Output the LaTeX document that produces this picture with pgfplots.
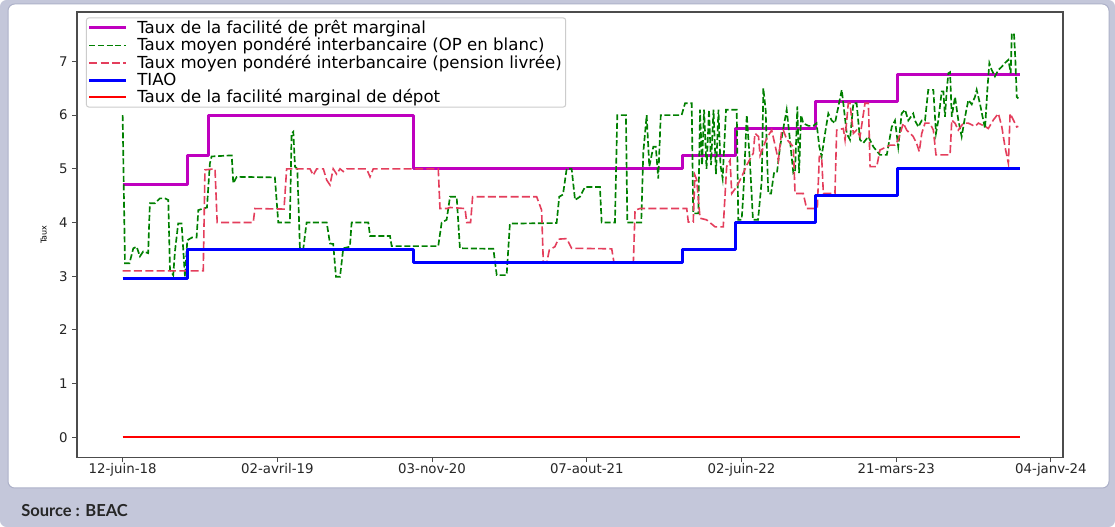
\documentclass[border=0pt]{standalone}
\usepackage{fontspec}
\setmainfont{DejaVu Sans}
\newfontfamily\srcfont{Lato}
\usepackage{pgfplots}
\pgfplotsset{compat=1.18}

\definecolor{bglav}{RGB}{196,199,218}
\definecolor{cardedge}{RGB}{172,176,200}
\definecolor{mplm}{RGB}{191,0,191}
\definecolor{mplg}{RGB}{0,128,0}
\definecolor{pinkr}{RGB}{228,62,92}

\begin{document}
\begin{tikzpicture}
\useasboundingbox (0,0) rectangle (836.25pt,-395.25pt);
% card and footer, in screen pixels
\begin{scope}[x=0.75pt,y=-0.75pt]
\fill[white] (0,0) rectangle (1115,527);
\fill[bglav, rounded corners=5pt] (0,0) rectangle (1115,527);
\filldraw[fill=white, draw=cardedge, line width=0.75pt, rounded corners=5pt] (8,4) rectangle (1109,488);
\node[anchor=base west, inner sep=0, text=black!85,
  font=\srcfont\bfseries\fontsize{12.4}{14}\selectfont] at (21,516.5) {Source : BEAC};
\end{scope}

\begin{axis}[
    at={(57.75pt,-342.975pt)}, anchor=south west,
    scale only axis, width=739.5pt, height=333.975pt,
    xmin=-0.295, xmax=6.078, ymin=-0.372, ymax=7.92,
    axis line style={black!70, line width=0.8pt},
    tick align=outside, tick pos=left, major tick length=3.6pt,
    tick style={black!70, line width=0.8pt},
    xtick={0,...,6},
    xticklabels={12-juin-18,02-avril-19,03-nov-20,07-aout-21,02-juin-22,21-mars-23,04-janv-24},
    ytick={0,...,7},
    ticklabel style={font=\fontsize{10}{12}\selectfont, text=black!85},
    xticklabel style={inner sep=1pt},
    /pgf/number format/assume math mode=true,
    ylabel={Taux},
    ylabel style={font=\fontsize{6}{7}\selectfont, at={(axis description cs:-0.026,0.5)}},
    legend cell align=left,
    legend image code/.code={\draw[#1] (0pt,0pt) -- (27.75pt,0pt);},
    legend style={at={(0.009,0.988)}, anchor=north west, draw=black!20,
      line width=0.75pt, rounded corners=2pt, fill=white, fill opacity=0.85, text opacity=1,
      inner xsep=1pt, inner ysep=1.5pt,
      column sep=5.2pt, row sep=1.35pt, font=\fontsize{12.45}{14}\selectfont,
      nodes={inner ysep=0.2pt, inner xsep=2pt}},
]
% facilite de pret marginal
\addplot[mplm, line width=2.25pt, line join=round] coordinates {
(0,4.7) (0.42,4.7) (0.42,5.25) (0.553,5.25) (0.553,6) (1.878,6) (1.878,5)
(3.62,5) (3.62,5.25) (3.958,5.25) (3.958,5.75) (4.475,5.75) (4.475,6.25)
(5.005,6.25) (5.005,6.75) (5.8,6.75)};
\addlegendentry{Taux de la facilité de prêt marginal}

% OP en blanc
\addplot[mplg, line width=1.25pt, dash pattern=on 4.5pt off 2pt] coordinates {
(0,6.0) (0.015,3.24) (0.044,3.24) (0.069,3.52) (0.090,3.55) (0.112,3.37)
(0.133,3.46) (0.165,3.43) (0.176,4.36) (0.209,4.36) (0.241,4.45) (0.273,4.45)
(0.295,4.42) (0.306,3.12) (0.327,3.02) (0.338,3.46) (0.359,3.98) (0.381,3.98)
(0.403,2.99) (0.418,3.67) (0.448,3.72) (0.478,3.72) (0.489,4.23) (0.521,4.26)
(0.545,4.28) (0.564,5.10) (0.575,5.23) (0.705,5.25) (0.715,4.73) (0.737,4.85)
(0.984,4.84) (1.006,4.0) (1.081,4.0) (1.092,5.66) (1.103,5.69) (1.114,5.04)
(1.129,5.0) (1.146,3.52) (1.167,3.50) (1.189,4.0) (1.319,4.0) (1.340,3.61)
(1.361,3.60) (1.379,2.99) (1.405,2.99) (1.426,3.52) (1.469,3.55) (1.480,4.0)
(1.588,4.0) (1.599,3.75) (1.728,3.75) (1.739,3.56) (2.040,3.56) (2.062,4.0)
(2.094,4.05) (2.116,4.48) (2.159,4.48) (2.180,3.52) (2.396,3.51) (2.418,3.02)
(2.482,3.02) (2.503,3.98) (2.805,3.99) (2.822,4.48) (2.846,4.52) (2.870,5.0)
(2.902,5.0) (2.924,4.42) (2.956,4.48) (2.988,4.66) (3.085,4.66) (3.096,4.0)
(3.182,4.0) (3.197,6.0) (3.253,6.0) (3.262,4.0) (3.352,4.0) (3.365,5.3)
(3.387,6.0) (3.404,5.04) (3.430,5.41) (3.446,5.41) (3.462,4.82) (3.478,6.0)
(3.613,6.0) (3.635,6.22) (3.678,6.22) (3.688,4.17) (3.721,4.17) (3.732,6.1)
(3.745,5.07) (3.758,6.1) (3.774,5.0) (3.790,6.1) (3.803,5.07) (3.819,6.1)
(3.835,4.9) (3.851,6.1) (3.864,5.07) (3.878,4.82) (3.900,6.1) (3.969,6.1)
(3.979,4.05) (4.001,4.05) (4.012,4.54) (4.034,6.0) (4.055,5.1) (4.074,4.05)
(4.107,4.05) (4.131,4.79) (4.141,6.5) (4.156,6.1) (4.173,4.54) (4.191,4.54)
(4.210,4.92) (4.229,4.92) (4.249,5.41) (4.292,6.1) (4.313,5.54) (4.335,4.92)
(4.346,4.95) (4.361,6.16) (4.372,4.92) (4.385,6.0) (4.399,5.85) (4.432,5.8)
(4.464,5.8) (4.485,5.85) (4.503,5.41) (4.518,5.23) (4.540,5.66) (4.561,6.03)
(4.583,5.9) (4.604,5.85) (4.626,6.16) (4.648,6.47) (4.658,6.22) (4.680,5.66)
(4.701,5.54) (4.723,6.22) (4.744,6.22) (4.766,5.54) (4.787,5.48) (4.820,5.6)
(4.852,5.41) (4.895,5.26) (4.939,5.26) (4.971,5.78) (4.992,5.9) (5.013,5.41)
(5.035,6.03) (5.057,6.1) (5.078,5.9) (5.110,6.03) (5.121,5.9) (5.143,5.78)
(5.165,5.9) (5.186,5.9) (5.207,6.47) (5.240,6.47) (5.257,5.66) (5.272,5.9)
(5.294,6.44) (5.305,6.44) (5.315,5.97) (5.326,6.44) (5.337,6.78) (5.348,6.8)
(5.359,5.97) (5.380,6.34) (5.401,5.91) (5.423,5.6) (5.445,5.97) (5.466,6.28)
(5.488,6.2) (5.509,6.34) (5.520,6.47) (5.542,6.2) (5.563,5.9) (5.574,5.75)
(5.589,6.47) (5.602,6.97) (5.617,6.84) (5.638,6.72) (5.660,6.84) (5.682,6.9)
(5.703,6.97) (5.725,7.03) (5.740,6.78) (5.747,7.52) (5.761,7.52) (5.770,7.03)
(5.779,6.34) (5.789,6.31)};
\addlegendentry{Taux moyen pondéré interbancaire (OP en blanc)}

% pension livree
\addplot[pinkr, line width=1.2pt, dash pattern=on 6pt off 2.5pt] coordinates {
(0,3.10) (0.521,3.10) (0.532,4.98) (0.597,5.0) (0.611,4.0) (0.844,4.0)
(0.855,4.26) (1.043,4.25) (1.060,5.0) (1.211,5.0) (1.232,4.88) (1.254,5.0)
(1.297,5.0) (1.319,4.79) (1.340,4.70) (1.361,5.0) (1.383,4.9) (1.405,5.0)
(1.426,4.95) (1.448,5.0) (1.577,5.0) (1.599,4.85) (1.620,5.0) (2.040,5.0)
(2.051,4.26) (2.094,4.26) (2.116,4.28) (2.213,4.26) (2.224,4.0) (2.249,4.0)
(2.262,4.48) (2.676,4.48) (2.708,4.23) (2.719,3.25) (2.741,3.25) (2.758,3.49)
(2.794,3.55) (2.816,3.69) (2.870,3.7) (2.902,3.52) (3.161,3.51) (3.176,3.25)
(3.301,3.25) (3.312,4.23) (3.344,4.26) (3.646,4.26) (3.656,4.01) (3.688,4.01)
(3.699,4.88) (3.710,4.8) (3.732,4.08) (3.774,4.05) (3.829,3.92) (3.882,3.92)
(3.904,5.04) (3.926,5.16) (3.937,4.54) (3.969,4.67) (4.001,4.85) (4.034,5.07)
(4.076,5.29) (4.087,5.66) (4.110,5.6) (4.120,5.25) (4.163,5.57) (4.195,5.72)
(4.216,5.45) (4.238,5.16) (4.260,5.72) (4.270,5.72) (4.292,5.55) (4.335,5.41)
(4.346,4.54) (4.399,4.54) (4.421,4.26) (4.490,4.26) (4.503,5.23) (4.518,5.23)
(4.529,4.54) (4.604,4.54) (4.615,5.72) (4.658,5.75) (4.669,5.54) (4.690,6.22)
(4.701,6.22) (4.723,5.66) (4.744,5.72) (4.766,5.6) (4.798,6.22) (4.820,6.22)
(4.831,5.04) (4.874,5.04) (4.895,5.35) (4.960,5.44) (4.992,5.44) (5.013,5.54)
(5.046,5.85) (5.068,5.72) (5.089,5.66) (5.110,5.6) (5.132,5.47) (5.149,5.32)
(5.165,5.66) (5.186,5.85) (5.218,5.85) (5.240,5.72) (5.257,5.26) (5.348,5.26)
(5.359,5.91) (5.380,5.85) (5.401,5.72) (5.434,5.85) (5.466,5.85) (5.509,5.79)
(5.531,5.85) (5.552,5.82) (5.574,5.79) (5.595,5.75) (5.628,5.91) (5.660,6.03)
(5.682,5.79) (5.703,5.41) (5.725,5.1) (5.736,6.03) (5.757,5.91) (5.779,5.78)
(5.789,5.79)};
\addlegendentry{Taux moyen pondéré interbancaire (pension livrée)}

% TIAO
\addplot[blue, line width=2.25pt, line join=round] coordinates {
(0,2.95) (0.42,2.95) (0.42,3.5) (1.878,3.5) (1.878,3.25) (3.62,3.25)
(3.62,3.5) (3.958,3.5) (3.958,4) (4.475,4) (4.475,4.5) (5.005,4.5)
(5.005,5) (5.8,5)};
\addlegendentry{TIAO}

% facilite marginal de depot
\addplot[red, line width=1.5pt] coordinates {(0,0) (5.8,0)};
\addlegendentry{Taux de la facilité marginal de dépot}
\end{axis}
\end{tikzpicture}
\end{document}
